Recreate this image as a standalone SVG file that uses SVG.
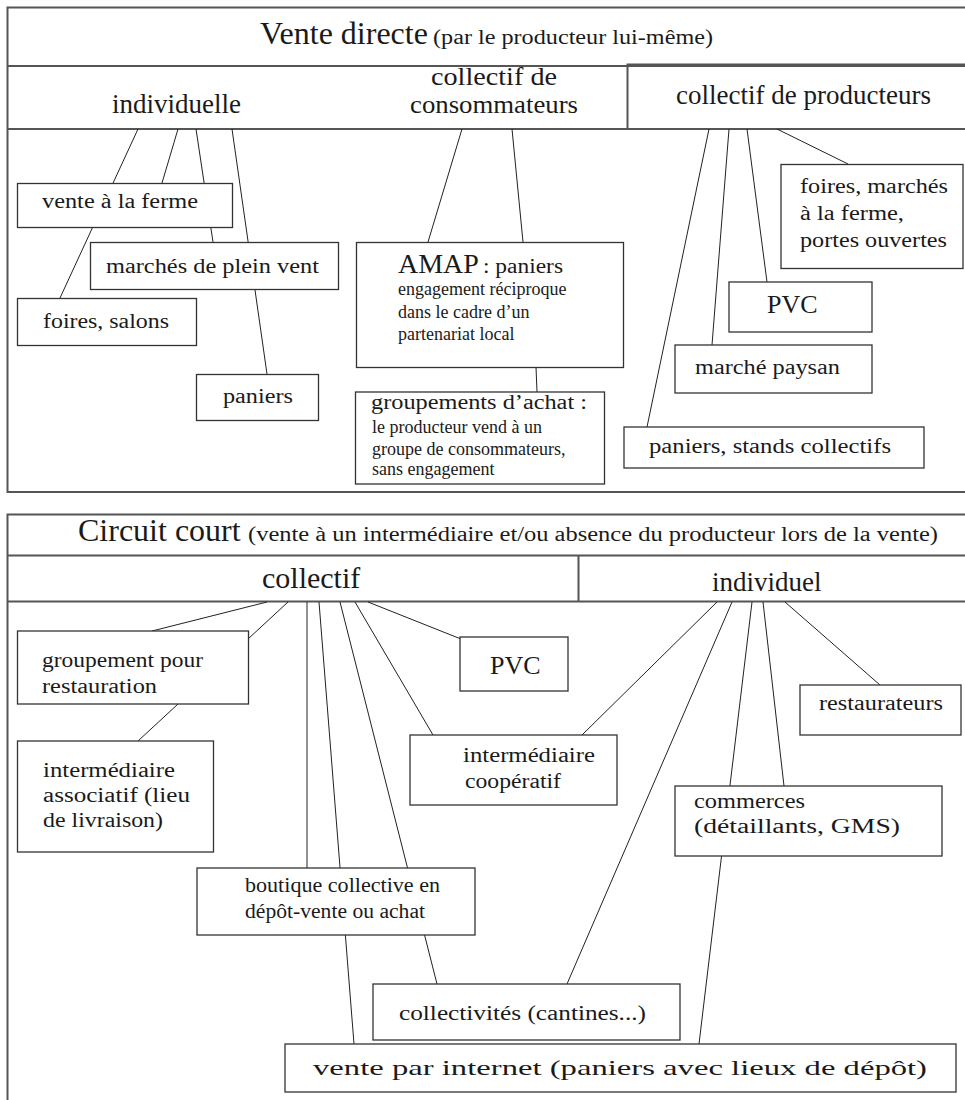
<svg xmlns="http://www.w3.org/2000/svg" width="965" height="1100" viewBox="0 0 965 1100">
<style>
text{font-family:"Liberation Serif","Times New Roman",serif;fill:#1a1a1a}
.frame{fill:none;stroke:#555;stroke-width:2}
.box{fill:#fff;stroke:#333;stroke-width:1.3}
.conn line{stroke:#222;stroke-width:1}
.h1{font-size:32px}
.sub{font-size:20px}
.h2{font-size:27px}
.t{font-size:20px}
.s{font-size:18px}
.big{font-size:27px}
</style>
<rect width="965" height="1100" fill="#fff"/>
<g id="frame-top">
<path class="frame" d="M965,7.5 H7.5 V492 H965 M7.5,66 H965 M7.5,129 H965"/>
<path class="frame" d="M627.5,129 V64.5 H965"/>
<text class="h1" x="260" y="44">Vente directe</text>
<text class="sub" x="433" y="44" textLength="280" lengthAdjust="spacingAndGlyphs">(par le producteur lui-même)</text>
<text class="h2" x="112" y="113">individuelle</text>
<text class="h2" x="494" y="85" text-anchor="middle" style="font-size:25px" textLength="126" lengthAdjust="spacingAndGlyphs">collectif de</text>
<text class="h2" x="494" y="113" text-anchor="middle" style="font-size:25px" textLength="168" lengthAdjust="spacingAndGlyphs">consommateurs</text>
<text class="h2" x="676" y="104">collectif de producteurs</text>
</g>
<g id="frame-bottom">
<path class="frame" d="M965,514.5 H7.5 V1100 M7.5,555.5 H965 M7.5,601.5 H965 M578.5,555.5 V601.5"/>
<text class="h1" x="78" y="541">Circuit court</text>
<text class="sub" x="248" y="541" textLength="690" lengthAdjust="spacingAndGlyphs">(vente à un intermédiaire et/ou absence du producteur lors de la vente)</text>
<text class="h2" x="262" y="588" style="font-size:30px">collectif</text>
<text class="h2" x="712" y="591">individuel</text>
</g>
<g id="connectors" class="conn">
<line x1="138" y1="129" x2="60" y2="298"/>
<line x1="178" y1="129" x2="162" y2="183"/>
<line x1="196" y1="129" x2="213" y2="242"/>
<line x1="232" y1="129" x2="267" y2="374"/>
<line x1="462" y1="129" x2="428" y2="242"/>
<line x1="512" y1="129" x2="523" y2="242"/>
<line x1="536" y1="367" x2="537" y2="392"/>
<line x1="709" y1="129" x2="647" y2="427"/>
<line x1="729" y1="129" x2="712" y2="345"/>
<line x1="747" y1="129" x2="767" y2="282"/>
<line x1="777" y1="129" x2="848" y2="164"/>
<line x1="267" y1="602" x2="152" y2="631"/>
<line x1="288" y1="602" x2="248" y2="639"/>
<line x1="178" y1="704" x2="138" y2="741"/>
<line x1="307" y1="602" x2="307" y2="868"/>
<line x1="319" y1="602" x2="354" y2="1044"/>
<line x1="340" y1="602" x2="437" y2="984"/>
<line x1="355" y1="602" x2="433" y2="735"/>
<line x1="368" y1="602" x2="461" y2="639"/>
<line x1="717" y1="602" x2="582" y2="735"/>
<line x1="732" y1="602" x2="567" y2="984"/>
<line x1="752" y1="602" x2="699" y2="1044"/>
<line x1="763" y1="602" x2="784" y2="786"/>
<line x1="785" y1="602" x2="880" y2="685"/>
</g>
<g id="n-vente-ferme"><rect class="box" x="17.5" y="183.5" width="215" height="44"/><text class="t" x="42" y="208" textLength="156" lengthAdjust="spacingAndGlyphs">vente à la ferme</text></g>
<g id="n-marches-plein-vent"><rect class="box" x="90.5" y="242.5" width="248" height="47"/><text class="t" x="106" y="273" textLength="213" lengthAdjust="spacingAndGlyphs">marchés de plein vent</text></g>
<g id="n-foires-salons"><rect class="box" x="17.5" y="298.5" width="179" height="47"/><text class="t" x="43" y="328" textLength="126" lengthAdjust="spacingAndGlyphs">foires, salons</text></g>
<g id="n-paniers"><rect class="box" x="196.5" y="374.5" width="122" height="46"/><text class="t" x="223" y="403" textLength="70" lengthAdjust="spacingAndGlyphs">paniers</text></g>
<g id="n-amap"><rect class="box" x="356.5" y="242.5" width="267" height="125"/>
<text class="big" x="398" y="273" style="font-size:28px">AMAP</text>
<text class="t" x="483" y="273" textLength="80" lengthAdjust="spacingAndGlyphs">: paniers</text>
<text class="s" x="398" y="295">engagement réciproque</text>
<text class="s" x="398" y="318">dans le cadre d’un</text>
<text class="s" x="398" y="340">partenariat local</text></g>
<g id="n-groupements-achat"><rect class="box" x="355.5" y="392" width="249" height="92"/>
<text class="t" x="371" y="409" textLength="216" lengthAdjust="spacingAndGlyphs">groupements d’achat :</text>
<text class="s" x="372" y="433">le producteur vend à un</text>
<text class="s" x="372" y="455">groupe de consommateurs,</text>
<text class="s" x="372" y="475">sans engagement</text></g>
<g id="n-foires-marches"><rect class="box" x="781" y="164.5" width="182" height="104"/>
<text class="t" x="800" y="193" textLength="148" lengthAdjust="spacingAndGlyphs">foires, marchés</text>
<text class="t" x="800" y="220" textLength="104" lengthAdjust="spacingAndGlyphs">à la ferme,</text>
<text class="t" x="800" y="247" textLength="147" lengthAdjust="spacingAndGlyphs">portes ouvertes</text></g>
<g id="n-pvc-1"><rect class="box" x="729" y="282" width="143" height="50"/><text class="big" x="767" y="313" style="font-size:26px">PVC</text></g>
<g id="n-marche-paysan"><rect class="box" x="675" y="345" width="197" height="48"/><text class="t" x="695" y="374" textLength="145" lengthAdjust="spacingAndGlyphs">marché paysan</text></g>
<g id="n-paniers-stands"><rect class="box" x="624" y="427" width="300" height="41"/><text class="t" x="649" y="453" textLength="242" lengthAdjust="spacingAndGlyphs">paniers, stands collectifs</text></g>
<g id="n-groupement-restauration"><rect class="box" x="17.5" y="631" width="231" height="73"/>
<text class="t" x="42" y="667" textLength="161" lengthAdjust="spacingAndGlyphs">groupement pour</text>
<text class="t" x="42" y="693" textLength="115" lengthAdjust="spacingAndGlyphs">restauration</text></g>
<g id="n-intermediaire-associatif"><rect class="box" x="17.5" y="741" width="196" height="111"/>
<text class="t" x="43" y="777" textLength="132" lengthAdjust="spacingAndGlyphs">intermédiaire</text>
<text class="t" x="43" y="802" textLength="147" lengthAdjust="spacingAndGlyphs">associatif (lieu</text>
<text class="t" x="43" y="827" textLength="120" lengthAdjust="spacingAndGlyphs">de livraison)</text></g>
<g id="n-pvc-2"><rect class="box" x="460" y="637" width="108" height="54"/><text class="big" x="490" y="674" style="font-size:26px">PVC</text></g>
<g id="n-restaurateurs"><rect class="box" x="800" y="685" width="161" height="50"/><text class="t" x="819" y="710" textLength="124" lengthAdjust="spacingAndGlyphs">restaurateurs</text></g>
<g id="n-intermediaire-cooperatif"><rect class="box" x="410" y="735" width="207" height="70"/>
<text class="t" x="463" y="762" textLength="132" lengthAdjust="spacingAndGlyphs">intermédiaire</text>
<text class="t" x="465" y="788" textLength="96" lengthAdjust="spacingAndGlyphs">coopératif</text></g>
<g id="n-commerces"><rect class="box" x="675" y="786" width="267" height="70"/>
<text class="t" x="694" y="808" textLength="111" lengthAdjust="spacingAndGlyphs">commerces</text>
<text class="t" x="694" y="833" textLength="206" lengthAdjust="spacingAndGlyphs">(détaillants, GMS)</text></g>
<g id="n-boutique"><rect class="box" x="197" y="868" width="278" height="67"/>
<text class="t" x="245" y="892" textLength="195" lengthAdjust="spacingAndGlyphs">boutique collective en</text>
<text class="t" x="245" y="918" textLength="180" lengthAdjust="spacingAndGlyphs">dépôt-vente ou achat</text></g>
<g id="n-collectivites"><rect class="box" x="373" y="984" width="307" height="56"/>
<text class="t" x="399" y="1020" textLength="247" lengthAdjust="spacingAndGlyphs">collectivités (cantines...)</text></g>
<g id="n-internet"><rect class="box" x="285" y="1044" width="671" height="48"/>
<text class="t" x="313" y="1075" style="font-size:22px" textLength="614" lengthAdjust="spacingAndGlyphs">vente par internet (paniers avec lieux de dépôt)</text></g>
</svg>
